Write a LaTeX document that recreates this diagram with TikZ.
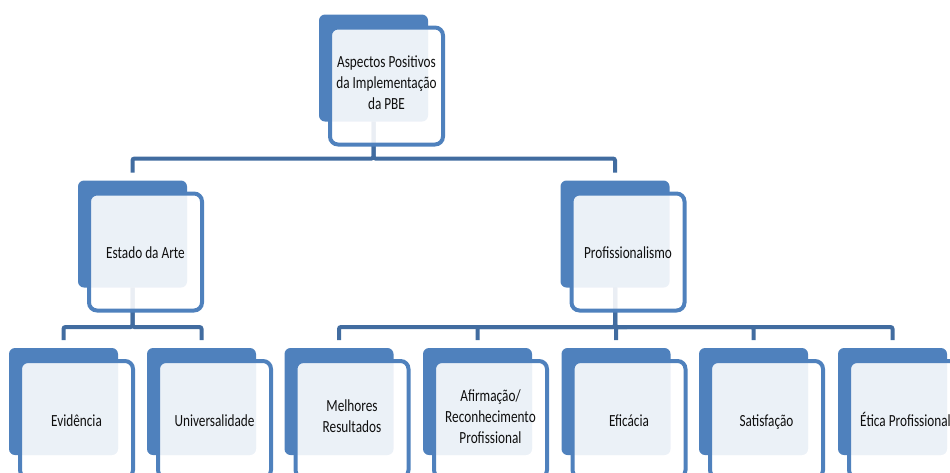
\documentclass[tikz,border=0pt]{standalone}
\usepackage{fontspec}
\setmainfont[FakeStretch=0.78]{Carlito}
\usetikzlibrary{calc}
\definecolor{acc}{RGB}{79,129,189}
\definecolor{lnk}{RGB}{65,108,160}
\definecolor{txt}{RGB}{15,15,15}
\begin{document}
\begin{tikzpicture}[x=1pt,y=-1pt,
 back/.style={fill=acc, draw=none, rounded corners=6pt, minimum width=109pt, minimum height=107pt, inner sep=0pt, outer sep=0pt},
 front/.style={fill=white, fill opacity=0.89, text opacity=1, draw=acc, line width=4pt, rounded corners=8pt, minimum width=113pt, minimum height=117pt, inner sep=0pt, align=center, text=txt, font=\fontsize{17}{21}\selectfont, execute at begin node={\rule{0pt}{20pt}}, execute at end node=\strut},
 conn/.style={draw=lnk, line width=4pt, rounded corners=2pt}]
\useasboundingbox (0,0) rectangle (950,472);
\clip (0,0) rectangle (950,472);
% back boxes
\node[back] (b0) at (373.5,68) {};
\node[back] (b1) at (132.5,234) {};
\node[back] (b2) at (615,234) {};
\node[back] (c1) at (63.5,401.5) {};
\node[back] (c2) at (201.5,401.5) {};
\node[back] (c3) at (339,401.5) {};
\node[back] (c4) at (477.5,401.5) {};
\node[back] (c5) at (616,401.5) {};
\node[back] (c6) at (753.5,401.5) {};
\node[back] (c7) at (892.5,401.5) {};
% connectors
\draw[conn] (b0.south) -- ++(0,37) -| ([yshift=8pt]b1.north);
\draw[conn] (b0.south) -- ++(0,37) -| ([yshift=8pt]b2.north);
\foreach \c in {c1,c2} {\draw[conn] (b1.south) -- ++(0,39.5) -| ([yshift=8pt]\c.north);}
\foreach \c in {c3,c4,c5,c6,c7} {\draw[conn] (b2.south) -- ++(0,39.5) -| ([yshift=8pt]\c.north);}
% front boxes
\node[front] (f0) at ($(b0)+(13,18)$) {Aspectos Positivos\\da Implementação\\da PBE};
\node[front] (f1) at ($(b1)+(13,18)$) {Estado da Arte};
\node[front] (f2) at ($(b2)+(13,18)$) {Profissionalismo};
\node[front] (g1) at ($(c1)+(13,18)$) {Evidência};
\node[front] (g2) at ($(c2)+(13,18)$) {Universalidade};
\node[front] (g3) at ($(c3)+(13,18)$) {Melhores\\Resultados};
\node[front] (g4) at ($(c4)+(13,18)$) {Afirmação/\\Reconhecimento\\Profissional};
\node[front] (g5) at ($(c5)+(13,18)$) {Eficácia};
\node[front] (g6) at ($(c6)+(13,18)$) {Satisfação};
\node[front] (g7) at ($(c7)+(13,18)$) {Ética Profissional};
\end{tikzpicture}
\end{document}
